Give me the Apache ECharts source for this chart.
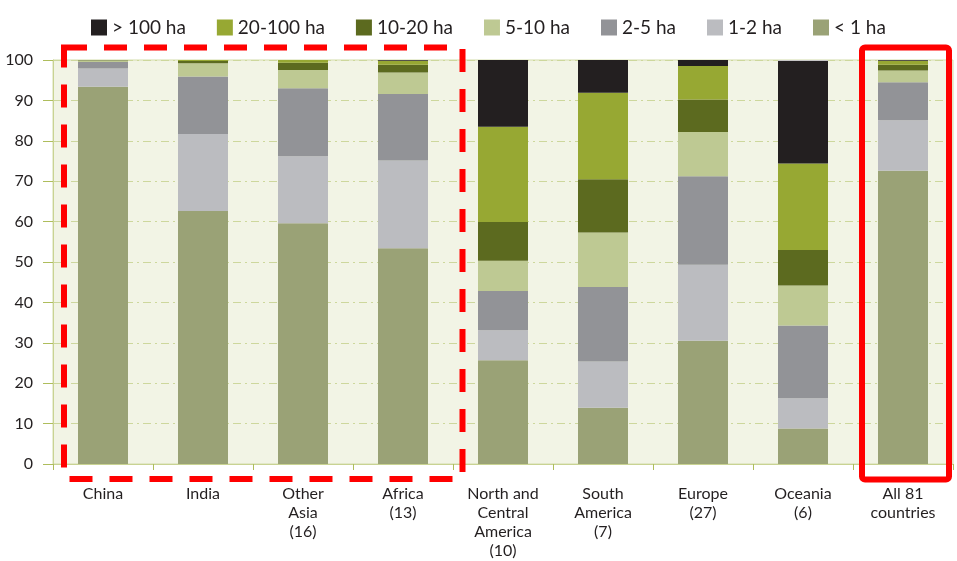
<!DOCTYPE html>
<html><head><meta charset="utf-8">
<script src="https://cdn.jsdelivr.net/npm/echarts@6/dist/echarts.min.js"></script>
<style>html,body{margin:0;padding:0;background:#fff}#c{width:957px;height:561px}</style>
</head><body><div id="c"></div>
<script>
var categories = ['China', 'India', 'Other\nAsia\n(16)', 'Africa\n(13)', 'North and\nCentral\nAmerica\n(10)', 'South\nAmerica\n(7)', 'Europe\n(27)', 'Oceania\n(6)', 'All 81\ncountries'];
var yTicks = [0, 10, 20, 30, 40, 50, 60, 70, 80, 90, 100];
var seriesNames = ['< 1 ha', '1-2 ha', '2-5 ha', '5-10 ha', '10-20 ha', '20-100 ha', '> 100 ha'];
var lt1     = [93.4, 62.6, 59.6, 53.4, 25.7, 13.9, 30.5, 8.8, 72.6];
var s1to2   = [4.5, 19.1, 16.6, 21.7, 7.4, 11.5, 18.8, 7.5, 12.5];
var s2to5   = [1.6, 14.2, 16.8, 16.5, 9.7, 18.4, 21.9, 18.0, 9.4];
var s5to10  = [0.4, 3.3, 4.5, 5.3, 7.5, 13.5, 11.0, 9.9, 2.9];
var s10to20 = [0.1, 0.55, 1.8, 1.9, 9.6, 13.2, 8.0, 8.8, 1.4];
var s20to100= [0.0, 0.25, 0.7, 1.0, 23.6, 21.4, 8.3, 21.4, 1.0];
var gt100   = [0.0, 0.0, 0.0, 0.2, 16.5, 8.1, 1.5, 25.4, 0.2];
var fullScale = [100, 100, 100, 100, 100, 100, 100, 100, 100];
var colors = ['#9aa276', '#bbbcc0', '#929397', '#bec993', '#5c6a1f', '#97a833', '#231f20'];
var seriesData = [lt1, s1to2, s2to5, s5to10, s10to20, s20to100, gt100];

var chart = echarts.init(document.getElementById('c'), null, {renderer: 'canvas'});
var series = [{
  name: 'bg', type: 'bar', data: fullScale, barWidth: '50%', barGap: '-100%', z: 1, silent: true,
  itemStyle: {color: 'rgba(0,0,0,0)', borderColor: '#ffffff', borderWidth: 1.5}
}];
seriesData.forEach(function (d, i) {
  series.push({
    name: seriesNames[i], type: 'bar', stack: 'total', data: d, barWidth: '50%', z: 2,
    itemStyle: {color: colors[i]}
  });
});
chart.setOption({
  animation: false,
  textStyle: {fontFamily: 'Lato', color: '#231f20'},
  legend: {
    data: ['> 100 ha', '20-100 ha', '10-20 ha', '5-10 ha', '2-5 ha', '1-2 ha', '< 1 ha'],
    left: 86, top: 13, icon: 'rect', itemWidth: 16, itemHeight: 16, itemGap: 31,
    textStyle: {fontSize: 19, color: '#231f20', fontFamily: 'Lato'}
  },
  grid: {left: 53, right: 4, top: 60, bottom: 97, show: true, backgroundColor: '#f2f4e5', borderColor: '#d3dcaa', borderWidth: 1},
  xAxis: {
    type: 'category', data: categories,
    axisLine: {show: true, lineStyle: {color: '#c9d392'}},
    axisTick: {show: true, length: 6, lineStyle: {color: '#aebd5c'}},
    axisLabel: {fontSize: 16, lineHeight: 19, margin: 20, color: '#231f20', fontFamily: 'Lato', interval: 0}
  },
  yAxis: {
    type: 'value', min: 0, max: 100, interval: 10,
    axisLine: {show: true, lineStyle: {color: '#c9d392'}},
    axisTick: {show: true, length: 10, lineStyle: {color: '#aebd5c'}},
    axisLabel: {fontSize: 16, margin: 20, color: '#231f20', fontFamily: 'Lato',
      formatter: function (v) { return yTicks.indexOf(v) >= 0 ? String(v) : ''; }},
    splitLine: {show: true, lineStyle: {color: '#cdd79c', type: [8, 4, 2, 4], width: 1}}
  },
  series: series,
  graphic: [
    {type: 'rect', z: 100, shape: {x: 64, y: 47.5, width: 398.5, height: 431.5},
     style: {fill: 'none', stroke: '#ff0000', lineWidth: 6, lineDash: [23, 17]}},
    {type: 'rect', z: 100, shape: {x: 862, y: 47.5, width: 87, height: 432, r: 3},
     style: {fill: 'none', stroke: '#ff0000', lineWidth: 6}}
  ]
});
</script></body></html>
